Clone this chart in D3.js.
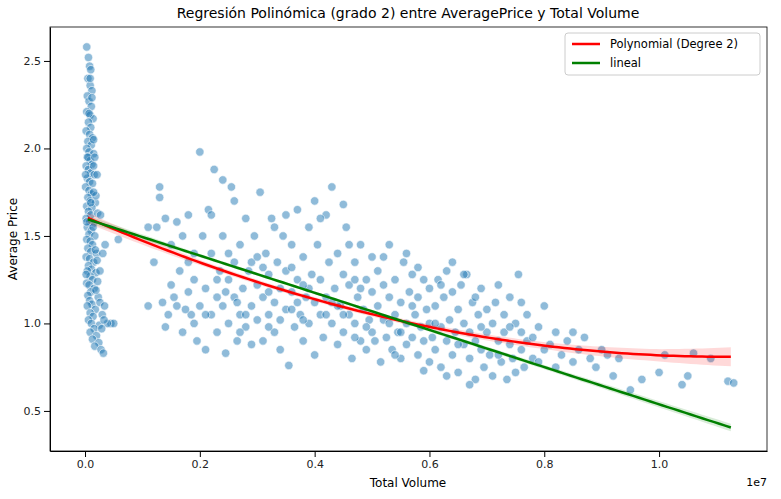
<!DOCTYPE html>
<html><head><meta charset="utf-8">
<script src="https://cdn.jsdelivr.net/npm/d3@7"></script>
<style>body{margin:0;background:#fff}text{font-family:"DejaVu Sans",sans-serif}</style>
</head><body><div class="chart"></div>
<script>
// volumes in units of 1e5, price
var clusterPoints = [[0.3,2.58],[0.6,2.52],[0.8,2.47],[1.0,2.45],[0.5,2.40],[0.9,2.36],[1.2,2.33],[0.4,2.30],[0.7,2.27],[1.1,2.24],[0.3,2.21],[0.9,2.19],[1.4,2.17],[0.6,2.15],[1.0,2.12],[0.2,2.10],[0.8,2.08],[1.3,2.06],[0.5,2.04],[1.1,2.02],[0.3,2.00],[0.7,1.98],[1.5,1.97],[0.4,1.95],[0.9,1.93],[1.2,1.91],[0.2,1.90],[0.6,1.88],[1.0,1.86],[1.6,1.85],[0.4,1.83],[0.8,1.81],[1.3,1.80],[0.1,1.78],[0.7,1.76],[1.1,1.74],[0.5,1.72],[0.9,1.70],[1.8,1.69],[0.3,1.67],[1.2,1.66],[0.6,1.64],[1.0,1.62],[2.2,1.63],[0.2,1.60],[0.8,1.58],[1.4,1.57],[0.4,1.55],[1.1,1.53],[0.7,1.51],[1.7,1.50],[0.3,1.48],[0.9,1.47],[1.3,1.45],[0.5,1.43],[1.0,1.41],[2.0,1.40],[0.2,1.38],[0.8,1.37],[1.5,1.35],[0.6,1.33],[1.1,1.31],[0.4,1.30],[1.9,1.29],[0.9,1.27],[1.3,1.25],[0.3,1.23],[0.7,1.22],[1.6,1.20],[1.0,1.18],[0.5,1.16],[2.3,1.15],[0.8,1.13],[1.2,1.11],[0.4,1.10],[1.8,1.08],[0.9,1.06],[1.4,1.04],[0.6,1.02],[1.1,1.00],[2.5,0.99],[1.6,0.97],[0.9,0.95],[2.0,0.93],[1.3,0.91],[2.4,0.89],[1.7,0.87],[2.8,0.85],[3.2,0.83],[4.5,1.00],[5.0,1.00],[3.0,1.05],[2.6,1.12],[3.5,1.45],[5.8,1.48],[2.7,1.62],[1.9,1.73],[2.1,1.85],[0.5,1.95],[1.5,2.05],[0.7,2.20],[1.2,2.29],[0.9,2.40],[1.4,1.55],[2.1,1.36],[2.2,1.24],[2.6,1.30],[1.8,1.42],[3.9,1.00],[3.3,1.02],[2.9,0.97],[1.5,1.90],[1.7,1.95],[0.1,1.85],[1.5,1.75],[0.3,1.58],[1.9,1.19],[0.2,1.28],[1.0,1.69],[3.1,1.40],[3.4,1.10]];

var spreadPoints = [[11,1.1],[12,1.35],[12.5,1.55],[13,1.78],[13.5,1.12],[14,1.6],[14.5,1.05],[15,1.22],[15,1.45],[16,1.1],[16.5,1.3],[17,1.5],[17,0.95],[18,1.18],[18,1.62],[18.5,1.05],[19,1.4],[19,1.25],[19.5,0.9],[20,1.1],[20,1.98],[20.5,1.5],[13,1.72],[16,1.58],[18,1.35],[11,1.55],[14,0.98],[15.5,1.15],[17.5,1.08],[19,1.0],
[21,1.2],[21,0.85],[21.5,1.65],[22,1.05],[22,1.4],[22.5,1.88],[23,1.15],[23,0.95],[23.5,1.3],[24,1.5],[24,1.1],[24.5,0.83],[25,1.25],[25,1.0],[25.5,1.78],[26,1.15],[26,1.35],[26.5,0.9],[27,1.45],[27,1.05],[27.5,1.2],[28,1.6],[28,0.98],[28.5,1.3],[29,1.1],[29,0.88],[29.5,1.5],[30,1.22],[30,1.02],[22,1.62],[24,1.82],[26,1.7],[28,1.05],[23,1.25],[25,1.4],[27,0.95],[29,1.35],[21,1.05],[24.5,1.18],[26.5,1.12],
[30.5,1.75],[31,1.15],[31,0.9],[31.5,1.4],[32,1.05],[32,1.28],[32.5,1.6],[33,1.12],[33,0.95],[33.5,1.35],[34,1.2],[34,0.85],[34.5,1.5],[35,1.08],[35,1.3],[35.5,0.76],[36,1.18],[36,1.45],[36.5,0.98],[37,1.25],[37,1.65],[37.5,1.05],[38,1.38],[38,0.9],[38.5,1.15],[39,1.55],[39,1.0],[39.5,1.28],[40,1.12],[40,0.82],[31,1.32],[33,1.55],[35,1.62],[37,1.12],[39,1.2],[32,1.18],[34,1.02],[36,1.08],[38,1.22],[40,1.7],[30,1.38],[32,0.98],[36,1.32],[38,1.02],
[40.5,1.45],[41,1.05],[41,1.25],[41.5,0.92],[42,1.62],[42,1.15],[42.5,1.35],[43,1.0],[43,1.78],[43.5,1.2],[44,0.88],[44,1.4],[44.5,1.1],[45,1.28],[45,0.95],[45.5,1.55],[46,1.05],[46,1.22],[46.5,0.8],[47,1.35],[47,1.0],[47.5,1.15],[48,0.9],[48,1.45],[48.5,1.08],[49,1.25],[49,0.85],[49.5,1.02],[50,1.18],[50,1.38],[42,1.05],[44,1.1],[46,1.45],[48,1.2],[50,0.95],[41,1.6],[43,1.12],[45,1.05],[47,1.25],[49,0.98],[45,1.68],[47,0.92],
[50.5,0.9],[51,1.1],[51,1.3],[51.5,0.78],[52,1.02],[52,1.22],[52.5,0.92],[53,1.15],[53,1.45],[53.5,0.85],[54,1.05],[54,1.25],[54.5,0.95],[55,1.12],[55,0.8],[55.5,1.35],[56,1.0],[56,0.88],[56.5,1.18],[57,0.92],[57,1.28],[57.5,1.05],[58,0.82],[58,1.15],[58.5,0.98],[59,1.25],[59,0.9],[59.5,1.08],[60,0.78],[60,1.0],[52,1.38],[54,0.82],[56,1.4],[58,1.32],[60,1.2],[53,1.0],[55,0.95],[57,1.1],[59,0.73],
[60.5,0.92],[61,1.1],[61,0.85],[61.5,1.25],[62,0.98],[62,0.75],[62.5,1.15],[63,0.9],[63,1.3],[63.5,1.02],[64,0.82],[64,1.18],[64.5,0.95],[65,1.08],[65,0.72],[65.5,1.22],[66,0.88],[66,1.0],[66.5,1.28],[67,0.8],[67,0.95],[67.5,1.12],[68,0.68],[68,0.9],[68.5,1.05],[69,0.85],[69,1.2],[69.5,0.75],[70,0.95],[70,1.08],[64,1.35],[66,1.28],[62,1.22],[68,1.15],[61,1.0],[63,0.7],[65,0.88],[67,0.65],[69,0.98],
[70.5,0.82],[71,1.0],[71,0.7],[71.5,1.12],[72,0.9],[72,1.22],[72.5,0.78],[73,0.95],[73,1.05],[73.5,0.68],[74,0.88],[74,1.15],[74.5,0.8],[75,1.0],[75,0.72],[75.5,1.28],[76,0.85],[76,0.95],[76.5,0.75],[77,0.9],[77,1.05],[78,0.8],[78,0.92],[79,0.98],[79,0.78],[80,0.85],[80,1.1],[74,0.98],[76,1.12],[72,0.82],
[81,0.88],[82,0.95],[82,0.75],[83,0.82],[84,0.9],[85,0.78],[85,0.95],[86,0.85],[87,0.92],[88,0.8],[89,0.75],[90,0.85],[91,0.82],[92,0.7],[93,0.8],[95,0.62],[97,0.68],[100,0.72],[101,0.82],[104,0.65],[105,0.7],[106,0.83],[109,0.8],[112,0.67],[113,0.66]];

// fitted curves, x in units of 1e7
var polyCoef = [1.61, -1.437, 0.645];
var linCoef = [1.60, -1.062];
var bandX = [0.005, 0.2, 0.4, 0.6, 0.8, 1.0, 1.13];
var polyBand = [0.03, 0.015, 0.012, 0.015, 0.02, 0.035, 0.055];
var linBand = [0.02, 0.01, 0.008, 0.01, 0.012, 0.018, 0.022];
var xTicks = [0, 0.2, 0.4, 0.6, 0.8, 1.0];
var yTicks = [0.5, 1.0, 1.5, 2.0, 2.5];

var svgWidth = 781, svgHeight = 499;
var margin = {top: 27, right: 14, bottom: 48, left: 50};

var svg = d3.select(".chart").append("svg")
  .attr("width", svgWidth).attr("height", svgHeight);

var x = d3.scaleLinear().domain([-0.061, 1.188]).range([margin.left, svgWidth - margin.right]);
var y = d3.scaleLinear().domain([0.271, 2.694]).range([svgHeight - margin.bottom, margin.top]);

// 1e5 units -> 1e7 units
var points = clusterPoints.concat(spreadPoints).map(d => [d[0] / 100, d[1]]);

svg.append("g")
  .attr("transform", `translate(0,${svgHeight - margin.bottom})`)
  .call(d3.axisBottom(x).tickValues(xTicks).tickFormat(d3.format(".1f")).tickSizeOuter(0))
  .call(g => g.selectAll("text").attr("font-size", 11).attr("fill", "#222"));
svg.append("g")
  .attr("transform", `translate(${margin.left},0)`)
  .call(d3.axisLeft(y).tickValues(yTicks).tickFormat(d3.format(".1f")).tickSizeOuter(0))
  .call(g => g.selectAll("text").attr("font-size", 11).attr("fill", "#222"));

svg.append("g").selectAll("circle").data(points).enter().append("circle")
  .attr("cx", d => x(d[0])).attr("cy", d => y(d[1])).attr("r", 4.2)
  .attr("fill", "#1f77b4").attr("fill-opacity", 0.5)
  .attr("stroke", "#fff").attr("stroke-width", 0.6);

var poly = v => polyCoef[0] + polyCoef[1] * v + polyCoef[2] * v * v;
var lin = v => linCoef[0] + linCoef[1] * v;
var xs = d3.range(0.005, 1.1301, 0.01);
var bw = (arr, v) => d3.scaleLinear().domain(bandX).range(arr)(v);

svg.append("path").datum(xs)
  .attr("d", d3.area().x(v => x(v)).y0(v => y(poly(v) - bw(polyBand, v))).y1(v => y(poly(v) + bw(polyBand, v))))
  .attr("fill", "red").attr("opacity", 0.15);
svg.append("path").datum(xs)
  .attr("d", d3.area().x(v => x(v)).y0(v => y(lin(v) - bw(linBand, v))).y1(v => y(lin(v) + bw(linBand, v))))
  .attr("fill", "green").attr("opacity", 0.15);
svg.append("path").datum(xs)
  .attr("d", d3.line().x(v => x(v)).y(v => y(poly(v))))
  .attr("fill", "none").attr("stroke", "red").attr("stroke-width", 2.5);
svg.append("path").datum(xs)
  .attr("d", d3.line().x(v => x(v)).y(v => y(lin(v))))
  .attr("fill", "none").attr("stroke", "green").attr("stroke-width", 2.5);

// frame
svg.append("rect").attr("x", margin.left).attr("y", margin.top)
  .attr("width", svgWidth - margin.left - margin.right).attr("height", svgHeight - margin.top - margin.bottom)
  .attr("fill", "none").attr("stroke", "#000").attr("stroke-width", 0.8);

// legend
var lg = svg.append("g").attr("transform", "translate(565,33)");
lg.append("rect").attr("width", 195).attr("height", 42).attr("rx", 3)
  .attr("fill", "#fff").attr("fill-opacity", 0.8).attr("stroke", "#ccc");
[["Polynomial (Degree 2)", "red"], ["lineal", "green"]].forEach((d, i) => {
  lg.append("line").attr("x1", 7).attr("x2", 35).attr("y1", 11 + i * 19).attr("y2", 11 + i * 19)
    .attr("stroke", d[1]).attr("stroke-width", 2.5);
  lg.append("text").attr("x", 45).attr("y", 15 + i * 19).attr("font-size", 11.5).text(d[0]);
});

svg.append("text").attr("x", 408).attr("y", 18).attr("text-anchor", "middle")
  .attr("font-size", 14).text("Regresión Polinómica (grado 2) entre AveragePrice y Total Volume");
svg.append("text").attr("x", 408).attr("y", 487).attr("text-anchor", "middle")
  .attr("font-size", 12).text("Total Volume");
svg.append("text").attr("transform", "translate(17,239) rotate(-90)").attr("text-anchor", "middle")
  .attr("font-size", 12).text("Average Price");
svg.append("text").attr("x", 767).attr("y", 486).attr("text-anchor", "end")
  .attr("font-size", 11).text("1e7");
</script></body></html>
